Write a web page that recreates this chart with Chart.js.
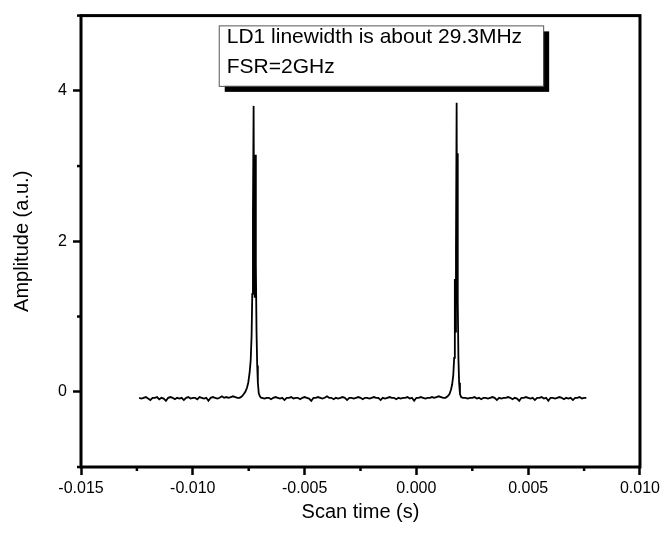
<!DOCTYPE html>
<html>
<head>
<meta charset="utf-8">
<script src="https://cdn.jsdelivr.net/npm/chart.js@4/dist/chart.umd.min.js"></script>
<style>
html,body{margin:0;padding:0;background:#fff}
#wrap{position:relative;width:664px;height:534px}
</style>
</head>
<body>
<div id="wrap"><canvas id="c"></canvas></div>
<script>
// baseline stretches, sampled every 0.1 ms
const segStart = [-0.0124, -0.0069, 0.0022]
const segStep = 0.0001
const segA = [-0.08,-0.09,-0.08,-0.07,-0.09,-0.11,-0.08,-0.08,-0.07,-0.10,
	-0.08,-0.09,-0.12,-0.08,-0.07,-0.08,-0.10,-0.08,-0.09,-0.08,
	-0.11,-0.08,-0.07,-0.09,-0.08,-0.08,-0.10,-0.07,-0.08,-0.09,
	-0.08,-0.12,-0.08,-0.07,-0.08,-0.09,-0.08,-0.06,-0.08,-0.07,
	-0.08,-0.07,-0.06,-0.07,-0.08]
const segB = [-0.08,-0.09,-0.08,-0.08,-0.10,-0.08,-0.07,-0.08,-0.09,-0.08,
	-0.11,-0.08,-0.08,-0.07,-0.09,-0.08,-0.08,-0.10,-0.08,-0.07,
	-0.08,-0.09,-0.12,-0.08,-0.08,-0.07,-0.08,-0.09,-0.08,-0.06,
	-0.08,-0.08,-0.10,-0.08,-0.09,-0.08,-0.07,-0.08,-0.11,-0.08,
	-0.08,-0.09,-0.08,-0.07,-0.08,-0.10,-0.08,-0.08,-0.09,-0.08,
	-0.07,-0.08,-0.08,-0.11,-0.08,-0.09,-0.08,-0.07,-0.08,-0.08,
	-0.10,-0.08,-0.09,-0.08,-0.08,-0.07,-0.09,-0.08,-0.12,-0.08,
	-0.08,-0.07,-0.08,-0.09,-0.08,-0.08,-0.07,-0.08,-0.07,-0.06,
	-0.07,-0.08]
const segC = [-0.08,-0.09,-0.08,-0.08,-0.07,-0.09,-0.08,-0.10,-0.08,-0.08,
	-0.09,-0.08,-0.07,-0.08,-0.11,-0.08,-0.09,-0.08,-0.08,-0.07,
	-0.08,-0.10,-0.08,-0.09,-0.12,-0.08,-0.08,-0.07,-0.08,-0.09,
	-0.08,-0.11,-0.08,-0.08,-0.07,-0.09,-0.08,-0.12,-0.08,-0.08,
	-0.09,-0.08,-0.07,-0.08,-0.10,-0.08,-0.09,-0.08,-0.11,-0.08,
	-0.08,-0.07,-0.09,-0.08,-0.08]

// the two transmission peaks
const peak1T = [-0.00790,-0.00780,-0.00772,-0.00765,-0.00758,-0.00752,-0.00746,-0.00741,-0.00737,-0.00734,-0.00731,-0.00728,-0.00726,-0.00724,-0.00722,-0.00720,-0.00718,-0.00715,-0.00712,-0.00709,-0.00705,-0.00700,-0.00694]
const peak1A = [-0.08,-0.06,-0.03,0.00,0.05,0.12,0.25,0.42,0.75,1.3,2.4,3.8,2.2,1.25,2.1,3.15,1.7,0.8,0.35,0.12,-0.02,-0.06,-0.08]
const peak2T = [0.00130,0.00140,0.00148,0.00155,0.00160,0.00165,0.00169,0.00172,0.00174,0.00177,0.00180,0.00182,0.00184,0.00186,0.00188,0.00191,0.00195,0.00200,0.00208]
const peak2A = [-0.08,-0.06,-0.03,0.03,0.10,0.22,0.45,1.5,0.8,1.9,3.84,1.5,3.17,1.2,0.45,0.12,-0.03,-0.07,-0.08]

const xTicks = [-0.015,-0.010,-0.005,0.000,0.005,0.010]
const yTicks = [0,2,4]
const noteLines = ['LD1 linewidth is about 29.3MHz', 'FSR=2GHz']

const seg = (s, v) => v.map((y, i) => ({x: s + i * segStep, y}))
const pk = (t, a) => t.map((x, i) => ({x, y: a[i]}))
const pts = [].concat(seg(segStart[0], segA), pk(peak1T, peak1A), seg(segStart[1], segB), pk(peak2T, peak2A), seg(segStart[2], segC))

const isMajor = (v, list) => list.some(t => Math.abs(t - v) < 1e-9)

Chart.defaults.font.family = "'Liberation Sans', Arial, sans-serif"
Chart.defaults.color = '#000'

const frame = {
	id: 'frame',
	afterDraw(c) {
		const g = c.ctx, a = c.chartArea, sx = c.scales.x, sy = c.scales.y
		g.save()
		g.strokeStyle = '#000'
		// minor ticks
		g.lineWidth = 2.5
		sx.ticks.forEach(t => { if (!isMajor(t.value, xTicks)) { const p = sx.getPixelForValue(t.value); g.beginPath(); g.moveTo(p, a.bottom); g.lineTo(p, a.bottom + 4); g.stroke() } })
		sy.ticks.forEach(t => { if (!isMajor(t.value, yTicks)) { const p = sy.getPixelForValue(t.value); g.beginPath(); g.moveTo(a.left, p); g.lineTo(a.left - 4, p); g.stroke() } })
		g.lineWidth = 3
		g.strokeRect(a.left, a.top, a.right - a.left, a.bottom - a.top)

		// note box
		const x1 = sx.getPixelForValue(-0.00884), x2 = sx.getPixelForValue(0.00567)
		const y1 = sy.getPixelForValue(4.87), y2 = sy.getPixelForValue(4.066)
		g.fillStyle = '#000'
		g.fillRect(x1 + 6, y1 + 6, x2 - x1, y2 - y1)
		g.fillStyle = '#fff'
		g.fillRect(x1, y1, x2 - x1, y2 - y1)
		g.lineWidth = 1
		g.strokeStyle = '#555'
		g.strokeRect(x1 + 0.5, y1 + 0.5, x2 - x1, y2 - y1)
		g.fillStyle = '#000'
		g.font = "21px 'Liberation Sans', Arial, sans-serif"
		g.textBaseline = 'middle'
		noteLines.forEach((s, i) => g.fillText(s, x1 + 8, y1 + 12 + i * 30))
		g.restore()
	}
}

new Chart(document.getElementById('c'), {
	type: 'scatter',
	data: { datasets: [{ data: pts, showLine: true, pointRadius: 0, borderColor: '#000', borderWidth: 1.8, tension: 0 }] },
	options: {
		responsive: true,
		maintainAspectRatio: false,
		animation: false,
		layout: { padding: { top: 12, right: 23, left: 0, bottom: 0 } },
		plugins: { legend: { display: false }, tooltip: { enabled: false } },
		scales: {
			x: {
				type: 'linear', min: -0.015, max: 0.010,
				afterFit: s => { s.height = 67 },
				border: { display: false },
				grid: { drawOnChartArea: false, tickLength: 8, tickWidth: 2.5, tickColor: c => isMajor(c.tick.value, xTicks) ? '#000' : 'rgba(0,0,0,0)' },
				ticks: { stepSize: 0.0025, autoSkip: false, maxRotation: 0, padding: 4, font: { size: 16 },
					callback: v => isMajor(v, xTicks) ? (Math.abs(v) < 1e-9 ? 0 : v).toFixed(3) : '' },
				title: { display: true, text: 'Scan time (s)', font: { size: 20 }, padding: { top: 0, bottom: 10 } }
			},
			y: {
				min: -1, max: 5,
				afterFit: s => { s.width = 81 },
				border: { display: false },
				grid: { drawOnChartArea: false, tickLength: 8, tickWidth: 2.5, tickColor: c => isMajor(c.tick.value, yTicks) ? '#000' : 'rgba(0,0,0,0)' },
				ticks: { stepSize: 1, autoSkip: false, padding: 6, font: { size: 16 },
					callback: v => isMajor(v, yTicks) ? String(v) : '' },
				title: { display: true, text: 'Amplitude (a.u.)', font: { size: 20 }, padding: { top: 10, bottom: 0 } }
			}
		}
	},
	plugins: [frame]
})
</script>
</body>
</html>
